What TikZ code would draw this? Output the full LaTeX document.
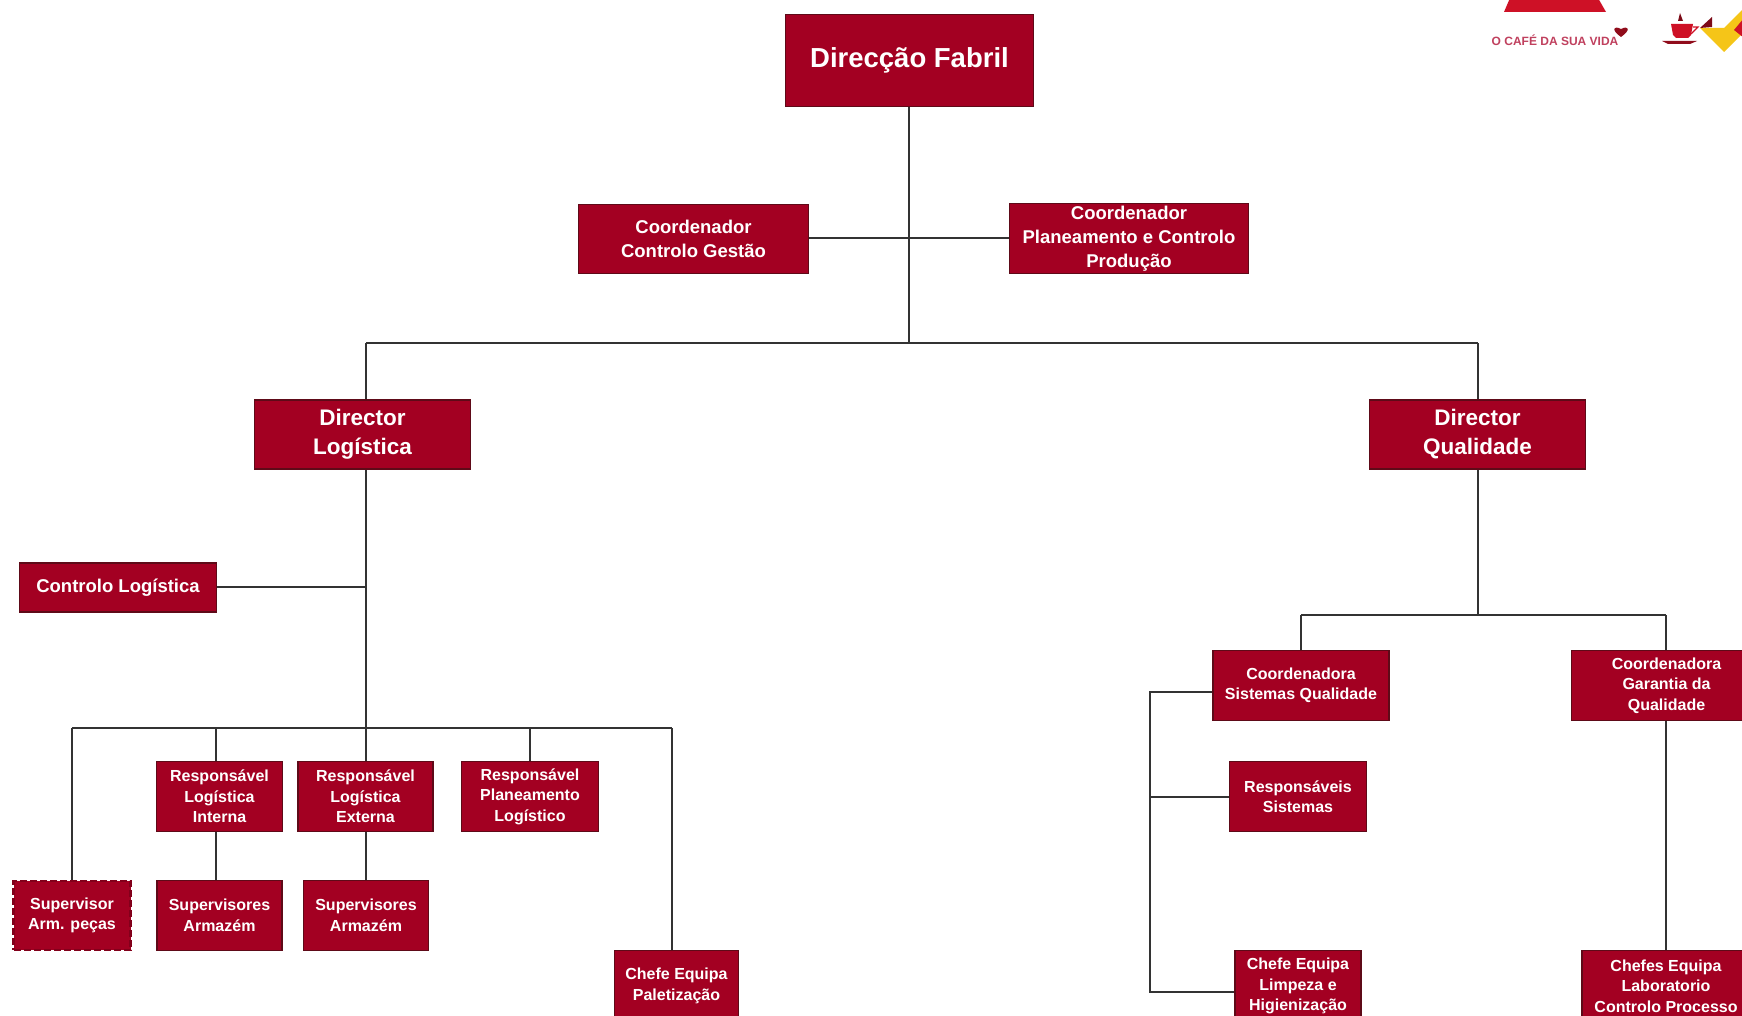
\documentclass[tikz,border=0pt]{standalone}
\usepackage{fontspec}
\setmainfont{Liberation Sans}
\definecolor{boxred}{HTML}{A30022}
\definecolor{boxedge}{HTML}{5E0A18}
\definecolor{linegrey}{HTML}{333333}
\definecolor{logored}{HTML}{CE1126}
\definecolor{logotext}{HTML}{C0405E}
\definecolor{logoyellow}{HTML}{F5C518}
\begin{document}
\begin{tikzpicture}[x=1pt,y=-1pt,
  orgbox/.style={draw=boxedge,line width=1.4pt,fill=boxred,text=white,align=center,inner sep=0pt,font=\bfseries},
  wh/.style 2 args={minimum width=#1pt,minimum height=#2pt},
  big/.style={font=\fontsize{27.5}{31}\selectfont\bfseries},
  mid/.style={font=\fontsize{22.5}{29}\selectfont\bfseries},
  med/.style={font=\fontsize{18.5}{24}\selectfont\bfseries},
  sml/.style={font=\fontsize{16}{20.5}\selectfont\bfseries},
  dashbox/.style={orgbox,draw=boxred!80!black,dash pattern=on 7pt off 3pt,line width=2.4pt},
  conn/.style={draw=linegrey,line width=1.8pt},
  logotxt/.style={text=logotext,inner sep=0pt,font=\fontsize{12}{14}\selectfont\bfseries}]
\useasboundingbox (0,0) rectangle (1742,1016);
\clip (0,0) rectangle (1742,1016);
\fill[white] (0,0) rectangle (1742,1016);

% logo
\fill[logored] (1510,-2) -- (1598,-2) -- (1606,12) -- (1504,12) -- cycle;
\node[logotxt,anchor=center] (lema) at (1555,40) {O CAFÉ DA SUA VIDA};
\fill[logored!70!black] (1621,37) .. controls (1611,30) and (1613,25) .. (1621,29) .. controls (1629,25) and (1631,30) .. (1621,37) -- cycle;
\fill[logored] (1671,24) -- (1693,24) -- (1691,35) -- (1688,38) -- (1676,38) -- (1673,35) -- cycle;
\draw[logored,line width=1.2pt] (1693,27) -- (1698,27) -- (1691,34);
\fill[logored!70!black] (1662,41) -- (1697,41) -- (1690,44) -- (1668,44) -- cycle;
\fill[logored!60!black] (1678,21) -- (1680,13) -- (1683,21) -- cycle;
\fill[logoyellow] (1700,28) -- (1724,52) -- (1744,32) -- (1744,8) -- (1724,28) -- (1712,28) -- cycle;
\fill[logored!60!black] (1700,28) -- (1712,17) -- (1712,27) -- cycle;
\fill[logored] (1744,18) -- (1734,30) -- (1744,38) -- cycle;

% nodes
\node[orgbox,big,wh={248}{92}] (df) at (909.5,60.5) {Direcção Fabril};
\node[orgbox,med,wh={230}{69}] (cg) at (693.5,239) {Coordenador\\Controlo Gestão};
\node[orgbox,med,wh={239}{70}] (cp) at (1129,238.5) {Coordenador\\Planeamento e Controlo\\Produção};
\node[orgbox,mid,wh={216}{69}] (dl) at (362.5,434.5) {Director\\Logística};
\node[orgbox,mid,wh={216}{69}] (dq) at (1477.5,434.5) {Director\\Qualidade};
\node[orgbox,med,wh={197}{49}] (cl) at (118,587.5) {Controlo Logística};
\node[orgbox,sml,wh={126}{70}] (ri) at (219.5,796.5) {Responsável\\Logística\\Interna};
\node[orgbox,sml,wh={135}{70}] (re) at (365.5,796.5) {Responsável\\Logística\\Externa};
\node[orgbox,sml,wh={137}{70}] (rp) at (530,796.5) {Responsável\\Planeamento\\Logístico};
\node[dashbox,sml,wh={117}{69}] (sa) at (72,915.5) {Supervisor\\Arm. peças};
\node[orgbox,sml,wh={125}{70}] (s1) at (219.5,915.5) {Supervisores\\Armazém};
\node[orgbox,sml,wh={125}{70}] (s2) at (366,915.5) {Supervisores\\Armazém};
\node[orgbox,sml,wh={124}{71}] (cpal) at (676.5,986) {Chefe Equipa\\Paletização};
\node[orgbox,sml,wh={176}{70}] (cs) at (1301,685.5) {Coordenadora\\Sistemas Qualidade};
\node[orgbox,sml,wh={190}{70}] (cq) at (1666.5,685.5) {Coordenadora\\Garantia da\\Qualidade};
\node[orgbox,sml,wh={137}{70}] (rs) at (1298,796.5) {Responsáveis\\Sistemas};
\node[orgbox,sml,wh={126}{71}] (cl2) at (1298,986) {Chefe Equipa\\Limpeza e\\Higienização};
\node[orgbox,sml,wh={168}{71}] (cb) at (1666,986) {Chefes Equipa\\Laboratorio\\Controlo Processo};

% junction points
\coordinate (top) at (909,343);
\coordinate (tl) at (366,343);
\coordinate (tq) at (1478,343);
\coordinate (mid) at (909,238);
\coordinate (ljun) at (366,587);
\coordinate (lbus) at (366,728);
\coordinate (lb1) at (72,728);
\coordinate (lb2) at (216,728);
\coordinate (lb3) at (530,728);
\coordinate (lb4) at (672,728);
\coordinate (qbus) at (1478,615);
\coordinate (qb1) at (1301,615);
\coordinate (qb2) at (1666,615);
\coordinate (vleft) at (1150,692);
\coordinate (vmid) at (1150,797);
\coordinate (vlow) at (1150,992);

% connectors
\draw[conn] (df.south -| top) -- (top);
\draw[conn] (cg.east |- mid) -- (cp.west |- mid);
\draw[conn] (tl) -- (tq);
\draw[conn] (tl) -- (dl.north -| tl);
\draw[conn] (tq) -- (dq.north -| tq);
\draw[conn] (dl.south -| lbus) -- (lbus);
\draw[conn] (cl.east |- ljun) -- (ljun);
\draw[conn] (lb1) -- (lb4);
\draw[conn] (lb1) -- (sa.north -| lb1);
\draw[conn] (lb2) -- (ri.north -| lb2);
\draw[conn] (lbus) -- (re.north -| lbus);
\draw[conn] (lb3) -- (rp.north -| lb3);
\draw[conn] (lb4) -- (cpal.north -| lb4);
\draw[conn] (ri.south -| lb2) -- (s1.north -| lb2);
\draw[conn] (re.south -| lbus) -- (s2.north -| lbus);
\draw[conn] (dq.south -| qbus) -- (qbus);
\draw[conn] (qb1) -- (qb2);
\draw[conn] (qb1) -- (cs.north -| qb1);
\draw[conn] (qb2) -- (cq.north -| qb2);
\draw[conn] (cq.south -| qb2) -- (cb.north -| qb2);
\draw[conn] (cs.west |- vleft) -- (vleft) -- (vlow) -- (cl2.west |- vlow);
\draw[conn] (vmid) -- (rs.west |- vmid);
\end{tikzpicture}
\end{document}
